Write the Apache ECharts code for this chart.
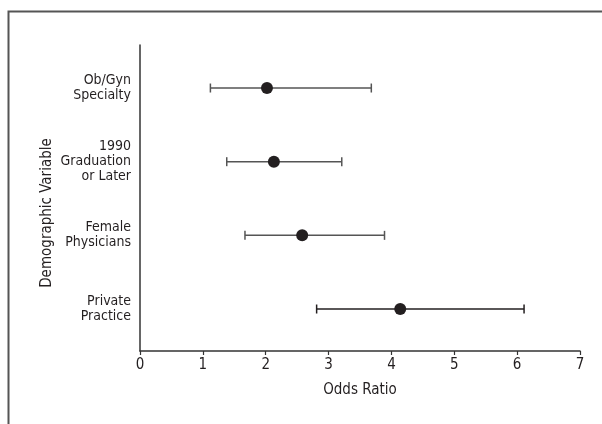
<!DOCTYPE html>
<html>
<head>
<meta charset="utf-8">
<script src="https://cdn.jsdelivr.net/npm/echarts@6/dist/echarts.min.js"></script>
<style>
html,body{margin:0;padding:0;background:#fff;}
#chart{width:602px;height:424px;}
</style>
</head>
<body>
<div id="chart"></div>
<script>
var categories = ['Ob/Gyn\nSpecialty', '1990\nGraduation\nor Later', 'Female\nPhysicians', 'Private\nPractice'];
var oddsRatio = [2.02, 2.13, 2.58, 4.14];
var ciLower = [1.12, 1.38, 1.67, 2.81];
var ciUpper = [3.68, 3.21, 3.89, 6.11];
var xTicks = [0, 1, 2, 3, 4, 5, 6, 7];
var rowIndex = [0, 1, 2, 3];

var FONT = '"Liberation Sans Narrow", "DejaVu Sans Condensed", sans-serif';
var chart = echarts.init(document.getElementById('chart'));

var errData = rowIndex.map(function (i) { return [i, ciLower[i], ciUpper[i]]; });
var dotData = rowIndex.map(function (i) { return [oddsRatio[i], i]; });

chart.setOption({
  animation: false,
  backgroundColor: '#fff',
  grid: { left: 140, right: 22, top: 45, bottom: 73 },
  graphic: [
    { type: 'rect', shape: { x: 8.5, y: 11.5, width: 620, height: 440 },
      style: { fill: 'none', stroke: '#555', lineWidth: 2 }, silent: true },
    { type: 'text', x: 47, y: 213, rotation: Math.PI / 2,
      style: { text: 'Demographic Variable', font: '15px ' + FONT, fill: '#231f20',
               textAlign: 'center', textVerticalAlign: 'middle' } }
  ],
  xAxis: {
    type: 'value', min: 0, max: 7, interval: 1,
    name: 'Odds Ratio', nameLocation: 'middle', nameGap: 32,
    nameTextStyle: { fontFamily: FONT, fontSize: 15, color: '#231f20' },
    axisLine: { show: true, onZero: false, lineStyle: { color: '#333', width: 1.5 } },
    axisTick: { show: true, length: 4, lineStyle: { color: '#333', width: 1.2 } },
    axisLabel: { fontFamily: FONT, fontSize: 15, color: '#231f20', margin: 7,
                 formatter: function (v) { return xTicks.indexOf(v) >= 0 ? String(v) : ''; } },
    splitLine: { show: false }
  },
  yAxis: {
    type: 'value', min: -0.584, max: 3.57, inverse: true,
    axisLine: { show: true, onZero: false, lineStyle: { color: '#333', width: 1.5 } },
    axisTick: { show: false },
    axisLabel: { fontFamily: FONT, fontSize: 14, color: '#231f20', lineHeight: 15, margin: 9, align: 'right',
                 customValues: rowIndex, showMinLabel: true, showMaxLabel: true,
                 formatter: function (v) { var k = Math.round(v); return (Math.abs(v - k) < 1e-6 && categories[k]) ? categories[k] : ''; } },
    splitLine: { show: false }
  },
  series: [
    {
      type: 'custom',
      data: errData,
      renderItem: function (params, api) {
        var idx = api.value(0);
        var lo = api.coord([api.value(1), idx]);
        var hi = api.coord([api.value(2), idx]);
        var h = 4.5;
        var col = idx === 3 ? '#231f20' : '#555';
        return {
          type: 'group',
          children: [
            { type: 'line', shape: { x1: lo[0], y1: lo[1], x2: hi[0], y2: hi[1] }, style: { stroke: col, lineWidth: 1.5 } },
            { type: 'line', shape: { x1: lo[0], y1: lo[1] - h, x2: lo[0], y2: lo[1] + h }, style: { stroke: col, lineWidth: 1.5 } },
            { type: 'line', shape: { x1: hi[0], y1: hi[1] - h, x2: hi[0], y2: hi[1] + h }, style: { stroke: col, lineWidth: 1.5 } }
          ]
        };
      },
      encode: { x: [1, 2], y: 0 },
      z: 2
    },
    {
      type: 'scatter',
      data: dotData,
      symbol: 'circle',
      symbolSize: 12,
      itemStyle: { color: '#231f20', opacity: 1 },
      z: 3
    }
  ]
});
</script>
</body>
</html>
